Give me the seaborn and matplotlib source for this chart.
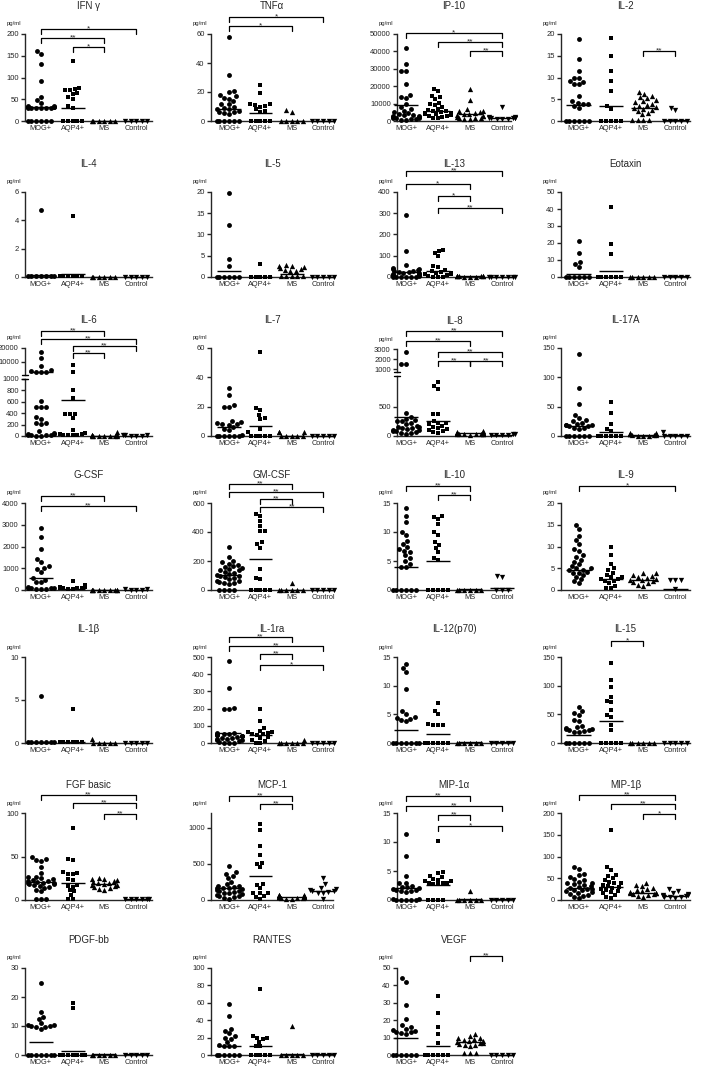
import warnings
import numpy as np
import matplotlib
matplotlib.use('Agg')
import matplotlib.pyplot as plt
import matplotlib.transforms as mtransforms
import seaborn as sns

warnings.filterwarnings('ignore')
sns.set_style('ticks')
plt.rcParams['font.family'] = ['Liberation Sans', 'DejaVu Sans']

groups = ['MOG+', 'AQP4+', 'MS', 'Control']
markers = ['o', 's', '^', 'v']

# values per cytokine: [MOG+, AQP4+, MS, Control], pg/ml
ifng = [[161, 155, 132, 92, 55, 48, 42, 35, 34, 33, 33, 32, 32, 31, 31, 30, 30, 30, 30, 0, 0, 0, 0, 0, 0],
        [138, 77, 74, 72, 72, 64, 63, 55, 50, 35, 30, 0, 0, 0, 0, 0],
        [0, 0, 0, 0, 0, 0],
        [0, 0, 0, 0, 0]]
ifng_med = [33, 31, 0, 0]
ifng_sig = [(0, 3, '*'), (0, 2, '**'), (1, 2, '*')]

tnfa = [[58, 32, 21, 20, 18, 17, 16, 15.5, 14, 12, 11.5, 10, 9, 8.5, 8, 7, 6.5, 6, 5.5, 5, 0, 0, 0, 0, 0, 0],
        [24.5, 19, 12, 11.5, 11, 10.5, 10, 8, 7, 6.5, 0, 0, 0, 0, 0],
        [7.4, 6.2, 0, 0, 0, 0, 0],
        [0, 0, 0, 0, 0]]
tnfa_med = [8.5, 5.5, 0, 0]
tnfa_sig = [(0, 3, '*'), (0, 2, '*')]

ip10 = [[42000, 32500, 28800, 28500, 21500, 14800, 13800, 13000, 9500, 8000, 7000, 6000, 5000, 4500,
         4000, 3500, 3200, 3000, 2800, 2500, 2200, 2000, 1800, 1500, 1200, 1000, 800, 600],
        [18500, 17500, 14500, 13800, 12500, 10500, 9500, 9000, 8000, 7000, 6500, 5800, 5500, 5000,
         4800, 4500, 4000, 3800, 3500, 3000, 2800, 2500, 2000, 1500],
        [18500, 12000, 6800, 6000, 5500, 5000, 4500, 4200, 4000, 3500, 3000, 2800, 2500, 2000, 1800,
         1500, 1200, 1000],
        [8000, 2500, 2200, 2000, 1800, 1700, 1600, 1500, 1300, 1200, 1000]]
ip10_med = [9000, 6000, 4300, 1600]
ip10_sig = [(0, 3, '*'), (1, 3, '**'), (2, 3, '**')]

il2 = [[18.8, 14.2, 11.5, 10.0, 9.8, 9.3, 9.0, 8.6, 8.4, 5.7, 4.5, 4.2, 4.0, 3.8, 3.5, 3.1, 0, 0, 0, 0, 0, 0],
       [19, 14.9, 11.5, 9.3, 7.0, 3.4, 2.8, 0, 0, 0, 0, 0],
       [6.7, 6.2, 5.8, 5.5, 5.2, 4.8, 4.5, 4.3, 4.0, 3.7, 3.5, 3.2, 3.0, 2.8, 2.5, 2.2, 1.8, 1.5,
        0.3, 0.3, 0.3, 0.3],
       [3.1, 2.5, 0, 0, 0, 0, 0]]
il2_med = [3.6, 3.4, 3.0, 0.2]
il2_sig = [(2, 3, '**')]

il4 = [[4.7, 0.1, 0.1, 0.1, 0.1, 0.1, 0.1, 0.1],
       [4.3, 0.1, 0.1, 0.1, 0.1, 0.1, 0.1],
       [0.03, 0.03, 0.03, 0.03, 0.03, 0.03],
       [0.03, 0.03, 0.03, 0.03, 0.03]]
il4_med = [0.12, 0.22, 0.03, 0.03]

il5 = [[19.8, 12.2, 4.3, 2.6, 0, 0, 0, 0, 0, 0],
       [3.0, 0, 0, 0, 0, 0],
       [2.9, 2.7, 2.5, 2.3, 2.1, 1.9, 1.7, 1.5, 1.4, 0.2, 0.2, 0.2, 0.2, 0.2],
       [0, 0, 0, 0, 0]]
il5_med = [1.4, 0.1, 0.8, 0.1]

il13 = [[290, 122, 55, 40, 38, 36, 35, 30, 28, 25, 22, 20, 18, 15, 12, 10, 8, 5, 3, 2, 0, 0, 0, 0, 0],
        [127, 122, 112, 97, 50, 45, 35, 28, 25, 20, 18, 15, 12, 10, 5, 0, 0, 0],
        [6, 5, 5, 4, 4, 3, 3, 2, 2, 1],
        [2, 2, 1, 1, 1, 0, 0]]
il13_med = [25, 29, 3, 2]
il13_sig = [(0, 3, '**'), (0, 2, '*'), (1, 2, '*'), (1, 3, '**')]

eotaxin = [[21, 14, 8.7, 7.8, 6, 0, 0, 0, 0, 0, 0],
           [41, 19.5, 13.5, 0, 0, 0, 0, 0, 0],
           [0, 0, 0, 0, 0, 0],
           [0, 0, 0, 0, 0]]
eotaxin_med = [2, 3.5, 0.2, 0.3]

il6 = [[17000, 12500, 6800, 4500, 3300, 3200, 3100, 3000, 620, 510, 500, 500, 330, 300, 220, 220, 210,
        80, 50, 40, 30, 25, 20, 15, 10, 5, 0],
       [8000, 3200, 800, 660, 390, 385, 380, 310, 100, 55, 40, 30, 25, 20, 15, 10],
       [70, 20, 15, 10, 8, 5, 5, 3, 2, 0, 0],
       [15, 12, 10, 8, 6, 5]]
il6_med = [3000, 630, 5, 8]
il6_sig = [(0, 2, '**'), (0, 3, '**'), (1, 3, '**'), (1, 2, '**')]

il7 = [[33, 28, 21, 19.5, 19.5, 10, 9.5, 9, 8.5, 8, 7.5, 6, 5, 4, 1, 0, 0, 0, 0, 0, 0],
       [57, 19, 17.5, 14.5, 12, 11.5, 5, 2.5, 0, 0, 0, 0, 0],
       [2.5, 2.5, 2.5, 0, 0, 0, 0, 0],
       [0, 0, 0, 0, 0]]
il7_med = [6, 6.8, 0.3, 0.3]

il8 = [[2750, 1500, 1500, 400, 330, 290, 280, 260, 250, 230, 200, 180, 160, 150, 140, 130, 120, 110,
        100, 90, 80, 70, 60, 50, 40],
       [930, 850, 800, 385, 385, 260, 230, 220, 200, 180, 160, 140, 120, 100, 80, 70, 60],
       [80, 70, 65, 60, 55, 50, 48, 45, 42, 40, 38, 35, 32, 30, 28, 25],
       [30, 28, 25, 22, 20, 18]]
il8_med = [320, 250, 45, 22]
il8_sig = [(0, 3, '**'), (0, 2, '**'), (1, 3, '**'), (1, 2, '**'), (2, 3, '**')]

il17a = [[140, 81, 54, 36, 30, 27, 25, 22, 20, 19, 19, 18, 17, 17, 14, 13, 12, 0, 0, 0, 0, 0, 0],
         [58, 39, 21, 12, 9, 0, 0, 0, 0, 0, 0],
         [5, 4.5, 4, 4, 3.5, 3, 3, 2.5, 2, 1, 0, 0, 0],
         [6, 0, 0, 0, 0, 0]]
il17a_med = [17, 6, 1.5, 1]

gcsf = [[2870, 2430, 1900, 1420, 1270, 1120, 1030, 970, 850, 550, 480, 370, 370, 120, 100, 90, 80, 70,
         60, 50, 50],
        [430, 210, 150, 120, 100, 90, 80, 70, 60, 50],
        [20, 15, 10, 10, 5, 5, 0, 0, 0],
        [30, 25, 20, 20, 15]]
gcsf_med = [550, 40, 5, 20]
gcsf_sig = [(0, 2, '**'), (0, 3, '**')]

gmcsf = [[300, 225, 200, 190, 180, 170, 165, 160, 150, 145, 140, 135, 125, 120, 110, 105, 100, 95, 90,
          85, 75, 65, 60, 55, 50, 45, 40, 0, 0, 0, 0],
         [525, 510, 475, 440, 410, 405, 330, 315, 290, 145, 80, 75, 0, 0, 0, 0, 0],
         [45, 0, 0, 0, 0, 0, 0],
         [0, 0, 0, 0, 0]]
gmcsf_med = [103, 215, 0, 0]
gmcsf_sig = [(0, 2, '**'), (0, 3, '**'), (1, 2, '**'), (1, 3, '**')]

il10 = [[14.2, 12.8, 11.8, 10, 9.5, 8.5, 8, 7.5, 7, 6.8, 6.5, 6, 5.5, 5, 4.5, 4, 3.9, 0, 0, 0, 0, 0, 0],
        [12.8, 12.6, 12.3, 11.3, 10, 9.5, 8.2, 7.8, 7.2, 6.5, 5.5, 5.2, 0, 0, 0, 0, 0],
        [0, 0, 0, 0, 0, 0],
        [2.5, 2.3, 0, 0, 0]]
il10_med = [4, 5, 0.1, 0.3]
il10_sig = [(0, 2, '**'), (1, 2, '**')]

il9 = [[15, 14, 12.5, 11.5, 10.5, 9.5, 9, 8, 7.5, 7, 6.5, 6, 5.5, 5, 5, 4.7, 4.5, 4.2, 4, 3.8, 3.5, 3,
        2.5, 2, 1.5],
       [10, 8, 6, 5, 4.5, 4, 3.5, 3, 3, 2.5, 2.5, 2, 2, 1.5, 1, 0.5, 0.5],
       [4, 3.8, 3.5, 3.2, 3, 2.8, 2.5, 2.3, 2.2, 2, 1.8, 1.5, 1.2, 1],
       [2.2, 2.2, 2.2, 0.2]]
il9_med = [4.7, 2.5, 2.2, 0.3]
il9_sig = [(0, 3, '*')]

il1b = [[5.5, 0.1, 0.1, 0.1, 0.1, 0.1, 0.1, 0.1],
        [4.0, 0.1, 0.1, 0.1, 0.1, 0.1, 0.1],
        [0.5, 0.05, 0.05, 0.05, 0.05, 0.05],
        [0.05, 0.05, 0.05, 0.05, 0.05]]
il1b_med = [0.12, 0.15, 0.05, 0.05]

il1ra = [[478, 320, 205, 200, 195, 60, 58, 55, 52, 50, 48, 45, 42, 40, 38, 35, 30, 28, 25, 22, 20, 15,
          10, 5, 0, 0, 0],
         [200, 130, 88, 70, 65, 62, 60, 55, 50, 45, 32, 28, 20, 10, 0, 0],
         [17, 0, 0, 0, 0, 0, 0],
         [0, 0, 0, 0, 0]]
il1ra_med = [60, 46, 2, 2]
il1ra_sig = [(0, 2, '**'), (0, 3, '**'), (1, 2, '**'), (1, 3, '*')]

il12 = [[13.8, 13, 12.3, 9.4, 5.6, 5, 4.5, 4.4, 4.2, 4.0, 3.8, 0, 0, 0, 0, 0, 0, 0],
        [7, 5.6, 5, 3.3, 3.2, 3.2, 3.1, 0, 0, 0, 0, 0, 0],
        [0, 0, 0, 0, 0, 0],
        [0, 0, 0, 0, 0]]
il12_med = [2.2, 1.5, 0.1, 0.1]

il15 = [[63, 55, 52, 49, 40, 38, 30, 28, 27, 25, 24, 23, 22, 21, 20, 20, 0, 0, 0, 0, 0, 0],
        [140, 110, 97, 81, 74, 71, 58, 49, 45, 32, 23, 0, 0, 0, 0, 0],
        [0, 0, 0, 0, 0, 0],
        [0, 0, 0, 0, 0]]
il15_med = [14, 39, 0.5, 0.5]
il15_sig = [(1, 2, '*')]

fgf = [[49, 47, 46, 45, 38, 31, 27, 26, 25, 24, 23, 22, 22, 21, 20, 20, 19, 18, 18, 17, 16, 15, 14, 12,
        10, 1, 1, 1],
       [83, 47, 46, 32, 31, 30, 30, 24, 23, 17, 16, 15, 11, 10, 6, 1, 1],
       [25, 24, 24, 23, 22, 21, 20, 19, 18, 17, 17, 16, 15, 14, 13, 12],
       [1, 1, 1, 1, 1, 1]]
fgf_med = [21, 20, 18, 1]
fgf_sig = [(0, 3, '**'), (1, 3, '**'), (2, 3, '**')]

mcp1 = [[470, 380, 360, 330, 300, 250, 220, 200, 190, 180, 170, 165, 160, 150, 140, 130, 120, 110, 100,
         90, 80, 70, 60, 50, 40, 30, 20],
        [1050, 960, 740, 620, 510, 500, 450, 215, 210, 160, 100, 95, 90, 60, 40, 20],
        [75, 70, 65, 60, 55, 50, 48, 45, 42, 40, 38, 35, 32, 30, 25, 20, 15],
        [305, 220, 160, 150, 140, 130, 120, 110, 100, 90, 10]]
mcp1_med = [165, 330, 45, 120]
mcp1_sig = [(0, 2, '**'), (1, 2, '**')]

mip1a = [[11.3, 7.6, 4.2, 3.0, 2.9, 2.5, 2.3, 2.2, 2.0, 1.9, 1.8, 1.7, 1.6, 1.5, 1.4, 0.2, 0.2, 0, 0, 0,
          0, 0],
         [10.2, 4.8, 4.7, 4.2, 4.0, 3.7, 3.5, 3.3, 3.2, 3.0, 3.0, 2.9, 2.8, 2.7, 0, 0, 0, 0],
         [1.6, 0, 0, 0, 0, 0, 0],
         [0, 0, 0, 0, 0]]
mip1a_med = [2.0, 2.6, 0.1, 0.1]
mip1a_sig = [(0, 2, '**'), (0, 3, '**'), (1, 2, '**'), (1, 3, '*')]

mip1b = [[75, 72, 60, 58, 52, 48, 45, 42, 40, 38, 36, 34, 32, 30, 28, 26, 25, 24, 22, 20, 18, 16, 14,
          12, 10, 8, 5],
         [161, 75, 70, 58, 55, 50, 45, 42, 40, 38, 35, 32, 30, 28, 25, 22, 20, 18, 15, 12, 8, 5],
         [38, 35, 32, 28, 25, 22, 20, 18, 17, 16, 15, 14, 13, 12, 10, 8],
         [25, 20, 16, 14, 12, 11, 10, 9, 8, 7, 6, 5]]
mip1b_med = [28, 30, 17, 10]
mip1b_sig = [(0, 3, '**'), (1, 3, '**'), (2, 3, '*')]

pdgf = [[25, 14.8, 13.2, 12.5, 11, 10.5, 10.3, 10, 10, 9.8, 9.5, 9, 0, 0, 0, 0, 0, 0, 0],
        [17.8, 16.2, 0, 0, 0, 0, 0, 0, 0],
        [0, 0, 0, 0, 0, 0],
        [0, 0, 0, 0, 0]]
pdgf_med = [4.4, 1.5, 0.2, 0.2]

rantes = [[59, 45, 30, 28, 25, 22, 20, 18, 15, 12, 10, 10, 10, 0, 0, 0, 0, 0, 0],
          [76, 22, 20, 20, 18, 15, 10, 10, 0, 0, 0, 0, 0],
          [33, 0, 0, 0, 0, 0],
          [0, 0, 0, 0, 0]]
rantes_med = [10, 10, 1, 1]

vegf = [[44, 42, 29, 20.5, 17, 16, 15, 14.5, 14, 13.5, 13, 12.5, 12, 0, 0, 0, 0, 0, 0],
        [34, 24, 16, 12, 7, 0, 0, 0, 0, 0, 0],
        [12, 11, 10, 9.5, 9, 8.5, 8, 8, 7.5, 7, 7, 6.5, 6, 5.5, 5, 1, 1, 1],
        [0, 0, 0, 0, 0]]
vegf_med = [9.6, 5, 7.5, 0.2]
vegf_sig = [(2, 3, '**')]

# layout: title, data, medians, significance, bracket offsets (px above top tick), y max, y ticks
panels = [
    ('IFN γ', ifng, ifng_med, ifng_sig, [5, -4, -13], 200, [0, 50, 100, 150, 200]),
    ('TNFα', tnfa, tnfa_med, tnfa_sig, [17, 8], 60, [0, 20, 40, 60]),
    ('IP-10', ip10, ip10_med, ip10_sig, [1, -8, -17], 50000, [0, 10000, 20000, 30000, 40000, 50000]),
    ('IL-2', il2, il2_med, il2_sig, [-17], 20, [0, 5, 10, 15, 20]),
    ('IL-4', il4, il4_med, [], [], 6, [0, 2, 4, 6]),
    ('IL-5', il5, il5_med, [], [], 20, [0, 5, 10, 15, 20]),
    ('IL-13', il13, il13_med, il13_sig, [21, 8, -4, -16], 400, [0, 100, 200, 300, 400]),
    ('Eotaxin', eotaxin, eotaxin_med, [], [], 50, [0, 10, 20, 30, 40, 50]),
    ('IL-6', il6, il6_med, il6_sig, [17, 9, 2, -5], None, None),
    ('IL-7', il7, il7_med, [], [], 60, [0, 20, 40, 60]),
    ('IL-8', il8, il8_med, il8_sig, [18, 8, -3, -12, -12], None, None),
    ('IL-17A', il17a, il17a_med, [], [], 150, [0, 50, 100, 150]),
    ('G-CSF', gcsf, gcsf_med, gcsf_sig, [7, -3], 4000, [0, 1000, 2000, 3000, 4000]),
    ('GM-CSF', gmcsf, gmcsf_med, gmcsf_sig, [19, 11, 4, -4], 600, [0, 200, 400, 600]),
    ('IL-10', il10, il10_med, il10_sig, [17, 8], 15, [0, 5, 10, 15]),
    ('IL-9', il9, il9_med, il9_sig, [17], 20, [0, 5, 10, 15, 20]),
    ('IL-1β', il1b, il1b_med, [], [], 10, [0, 5, 10]),
    ('IL-1ra', il1ra, il1ra_med, il1ra_sig, [20, 11, 3, -8], 500, [0, 100, 200, 300, 400, 500]),
    ('IL-12(p70)', il12, il12_med, [], [], 15, [0, 5, 10, 15]),
    ('IL-15', il15, il15_med, il15_sig, [16], 150, [0, 50, 100, 150]),
    ('FGF basic', fgf, fgf_med, fgf_sig, [18, 10, -1], 100, [0, 50, 100]),
    ('MCP-1', mcp1, mcp1_med, mcp1_sig, [17, 9], 1200, [0, 500, 1000]),
    ('MIP-1α', mip1a, mip1a_med, mip1a_sig, [17, 7, -2, -13], 15, [0, 5, 10, 15]),
    ('MIP-1β', mip1b, mip1b_med, mip1b_sig, [18, 9, -1], 200, [0, 50, 100, 150, 200]),
    ('PDGF-bb', pdgf, pdgf_med, [], [], 30, [0, 10, 20, 30]),
    ('RANTES', rantes, rantes_med, [], [], 100, [0, 20, 40, 60, 80, 100]),
    ('VEGF', vegf, vegf_med, vegf_sig, [12], 50, [0, 10, 20, 30, 40, 50]),
]

# broken y axes: (top px, bottom px, ylim, ticks) for upper and lower parts, split value
broken = {
    'IL-6': dict(upper=(348, 375, (700, 20000), [10000, 20000]),
                 lower=(379, 436, (0, 1000), [0, 200, 400, 600, 800, 1000]), cut=1000),
    'IL-8': dict(upper=(349, 372, (700, 3000), [1000, 2000, 3000]),
                 lower=(376, 436, (0, 1030), [0, 500]), cut=1030),
}

W, H = 708, 1067
fig = plt.figure(figsize=(W / 100, H / 100), dpi=100)

col_left = [25, 211, 397, 561]
col_width = [127, 122, 114, 129]
col_xlim = [(-0.5, 3.5), (-0.58, 3.32), (-0.28, 3.28), (-0.55, 3.45)]
row_top = [34, 192, 348, 503, 657, 813, 968]
row_bottom = [121, 277, 436, 590, 743, 900, 1055]
msize = [3.5, 3.3, 3.8, 3.8]


def axes_at(c, top, bottom):
    return fig.add_axes([col_left[c] / W, 1 - bottom / H, col_width[c] / W, (bottom - top) / H])


def dots(ax, data, med, lo=-1, hi=1e9):
    for i, vals in enumerate(data):
        v = [x for x in vals if lo < x <= hi]
        if v:
            sns.swarmplot(x=[groups[i]] * len(v), y=v, order=groups, marker=markers[i],
                          color='black', size=msize[i], linewidth=0, warn_thresh=1, ax=ax)
    for i, m in enumerate(med):
        if lo < m <= hi:
            ax.plot([i - 0.38, i + 0.38], [m, m], color='black', lw=1.0, zorder=4,
                    solid_capstyle='butt', clip_on=False)
    for coll in ax.collections:
        coll.set_clip_on(False)
        coll.set_zorder(3)


def finish(ax, c, ylim, ticks, xaxis=True):
    ax.set_xlim(*col_xlim[c])
    ax.set_ylim(*ylim)
    ax.set_yticks(ticks)
    ax.set_yticklabels([f'{t:g}' for t in ticks])
    ax.set_xlabel('')
    ax.set_ylabel('')
    sns.despine(ax=ax)
    ax.spines['left'].set_linewidth(1.0)
    ax.spines['bottom'].set_linewidth(1.0)
    ax.tick_params(axis='y', length=3, width=1.0, labelsize=5.5, pad=1.5)
    if xaxis:
        ax.set_xticks(range(4))
        ax.set_xticklabels(groups)
        ax.tick_params(axis='x', length=0, labelsize=5.3, pad=3)
    else:
        ax.spines['bottom'].set_visible(False)
        ax.set_xticks([])


def brackets(ax, sig, offs, top):
    tr = mtransforms.blended_transform_factory(ax.transData, fig.transFigure)
    for (a, b, lab), off in zip(sig, offs):
        y = 1 - (top - off) / H
        d = 5 / H
        ax.plot([a, a, b, b], [y - d, y, y, y - d], color='black', lw=0.9,
                transform=tr, clip_on=False)
        ax.text((a + b) / 2, y - 1.5 / H, lab, ha='center', va='baseline', fontsize=6,
                transform=tr)


for k, (title, data, med, sig, offs, ymax, ticks) in enumerate(panels):
    r, c = divmod(k, 4)
    top, bot = row_top[r], row_bottom[r]
    if title in broken:
        b = broken[title]
        ut, ub, ulim, uticks = b['upper']
        lt, lb, llim, lticks = b['lower']
        ax_up = axes_at(c, ut, ub)
        dots(ax_up, data, med, lo=b['cut'])
        finish(ax_up, c, ulim, uticks, xaxis=False)
        ax_lo = axes_at(c, lt, lb)
        dots(ax_lo, data, med, hi=b['cut'])
        finish(ax_lo, c, llim, lticks)
        x0 = col_left[c]
        for yy in (ub, lt):
            fig.add_artist(plt.Line2D([(x0 - 3) / W, (x0 + 3) / W], [1 - yy / H, 1 - yy / H],
                                      transform=fig.transFigure, color='black', lw=1.0))
        top = ut
        top_ax = ax_up
    else:
        ax = axes_at(c, top, bot)
        dots(ax, data, med)
        finish(ax, c, (0, ymax), ticks)
        top_ax = ax
    brackets(top_ax, sig, offs, top)
    cx = col_left[c] + col_width[c] / 2
    fig.text(cx / W, 1 - (top - 25) / H, title, ha='center', va='baseline', fontsize=7)
    fig.text((col_left[c] - 4) / W, 1 - (top - 10) / H, 'pg/ml', ha='right', va='center',
             fontsize=4.3)

fig.savefig('out.png', dpi=100)
